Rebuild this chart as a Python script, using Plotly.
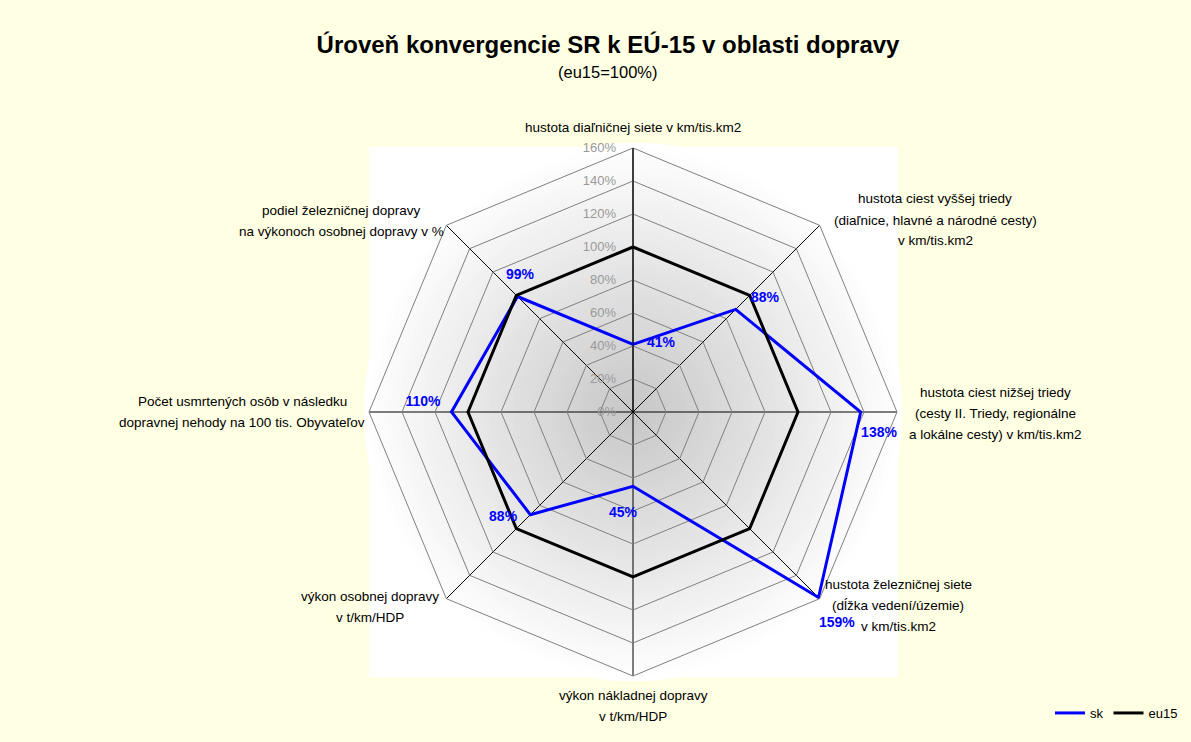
import plotly.graph_objects as go

categories = [
    "hustota diaľničnej siete v km/tis.km2",
    "hustota ciest vyššej triedy<br>(diaľnice, hlavné a národné cesty)<br>v km/tis.km2",
    "hustota ciest nižšej triedy<br>(cesty II. Triedy, regionálne<br>a lokálne cesty) v km/tis.km2",
    "hustota železničnej siete<br>(dĺžka vedení/územie)<br>v km/tis.km2",
    "výkon nákladnej dopravy<br>v t/km/HDP",
    "výkon osobnej dopravy<br>v t/km/HDP",
    "Počet usmrtených osôb v následku<br>dopravnej nehody na 100 tis. Obyvateľov",
    "podiel železničnej dopravy<br>na výkonoch osobnej dopravy v %",
]
sk = [41, 88, 138, 159, 45, 88, 110, 99]
eu15 = [100, 100, 100, 100, 100, 100, 100, 100]
sk_labels = ["41%", "88%", "138%", "159%", "45%", "88%", "110%", "99%"]
radial_ticks = [0, 20, 40, 60, 80, 100, 120, 140, 160]
radial_ticktext = [f"{v}%" for v in radial_ticks]

# label placement (styling): offsets of each data label from its point (radius %, degrees)
lab_dr = [4.1, 17.7, 11.7, 18.9, 17.1, 13.6, 17.4, 8.6]
lab_dth = [22.1, 4.2, 5.1, 1.0, 5.6, 5.8, 2.7, 5.5]
# category label block centres (pixels in the 1191x742 page)
cat_pos = [(633, 127), (935, 220), (995, 413), (898, 605),
           (633, 706), (370, 607), (242, 412), (341, 221)]
LINE_H = 21

W, H = 1191, 742
cx, cy, R = 633, 412, 264
RMAX = 160
RMAX2 = 200
R2 = R * RMAX2 / RMAX
BG = "#FFFFE3"
FONT = "Liberation Sans Narrow, Arial Narrow, Liberation Sans, Arial, sans-serif"
n = len(categories)
step = 360 / n

fig = go.Figure()

fig.add_trace(go.Scatterpolar(
    r=sk + sk[:1], theta=categories + categories[:1],
    mode="lines", name="sk",
    line=dict(color="#0000FF", width=3),
    cliponaxis=False,
))
fig.add_trace(go.Scatterpolar(
    r=eu15 + eu15[:1], theta=categories + categories[:1],
    mode="lines", name="eu15",
    line=dict(color="#000000", width=3),
    cliponaxis=False,
))
fig.add_trace(go.Scatterpolar(
    r=[v + d for v, d in zip(sk, lab_dr)],
    theta=[i * step + d for i, d in enumerate(lab_dth)],
    mode="text", text=sk_labels, textposition="middle center",
    textfont=dict(color="#0000FF", size=14, family=FONT, weight="bold"),
    showlegend=False, cliponaxis=False, subplot="polar2", hoverinfo="skip",
))

# background: white square with radial gray gradient
shapes = [dict(type="rect", xref="paper", yref="paper", layer="below",
               x0=(cx - R) / W, x1=(cx + R + 1) / W,
               y0=(H - cy - R - 1) / H, y1=(H - cy + R + 1) / H,
               fillcolor="white", line=dict(width=0))]
N = 45
for i in range(N):
    f = 1 - i / N
    r = R * 1.02 * f
    g = int(round(198 + (255 - 198) * f))
    shapes.append(dict(type="circle", xref="paper", yref="paper", layer="below",
                       x0=(cx - r) / W, x1=(cx + r) / W,
                       y0=(H - cy - r) / H, y1=(H - cy + r) / H,
                       fillcolor=f"rgb({g},{g},{g})", line=dict(width=0)))

annotations = [dict(text="(eu15=100%)", xref="paper", yref="paper",
                    x=608 / W, y=1 - 72 / H, yanchor="middle", showarrow=False,
                    font=dict(family="Liberation Sans, Arial, sans-serif", size=16.5))]
for name, (px, py) in zip(categories, cat_pos):
    lines = name.split("<br>")
    for j, line in enumerate(lines):
        yy = py + (j - (len(lines) - 1) / 2) * LINE_H
        annotations.append(dict(text=line, xref="paper", yref="paper",
                                x=px / W, y=1 - yy / H, xanchor="center",
                                yanchor="middle", showarrow=False,
                                font=dict(family=FONT, size=13.5, color="black")))

domain = dict(x=[(cx - R) / W, (cx + R) / W], y=[(H - cy - R) / H, (H - cy + R) / H])
domain2 = dict(x=[(cx - R2) / W, (cx + R2) / W], y=[(H - cy - R2) / H, (H - cy + R2) / H])

fig.update_layout(
    width=W, height=H,
    paper_bgcolor=BG,
    margin=dict(l=0, r=0, t=0, b=0),
    font=dict(family=FONT, size=13, color="black"),
    title=dict(text="Úroveň konvergencie SR k EÚ-15 v oblasti dopravy",
               x=608 / W, xanchor="center", y=1 - 45 / H, yanchor="middle",
               yref="container",
               font=dict(family="Liberation Sans, Arial, sans-serif", size=24,
                         color="black", weight="bold")),
    annotations=annotations,
    shapes=shapes,
    polar=dict(
        domain=domain,
        bgcolor="rgba(0,0,0,0)",
        gridshape="linear",
        radialaxis=dict(range=[0, RMAX], tickvals=radial_ticks, ticktext=radial_ticktext,
                        angle=90, side="counterclockwise", tickangle=90,
                        showline=True, linecolor="black", linewidth=1,
                        gridcolor="#808080", gridwidth=1,
                        ticks="outside", ticklen=12, tickcolor="rgba(0,0,0,0)",
                        tickfont=dict(color="#999999", size=13,
                                      family="Liberation Sans, Arial, sans-serif")),
        angularaxis=dict(direction="clockwise", rotation=90,
                         showline=True, linecolor="#808080", linewidth=1,
                         gridcolor="black", gridwidth=1, ticks="",
                         showticklabels=False),
    ),
    polar2=dict(
        domain=domain2,
        bgcolor="rgba(0,0,0,0)",
        radialaxis=dict(range=[0, RMAX2], visible=False),
        angularaxis=dict(type="linear", thetaunit="degrees", direction="clockwise",
                         rotation=90, visible=False),
    ),
    legend=dict(orientation="h", x=1183 / W, xanchor="right", y=1 - 713 / H,
                yanchor="middle", bgcolor="rgba(0,0,0,0)",
                font=dict(size=13, family=FONT), itemwidth=30),
    showlegend=True,
)

fig.write_html("out.html", config={"displayModeBar": False},
               post_script="document.body.style.margin='0';document.body.style.overflow='hidden';")
